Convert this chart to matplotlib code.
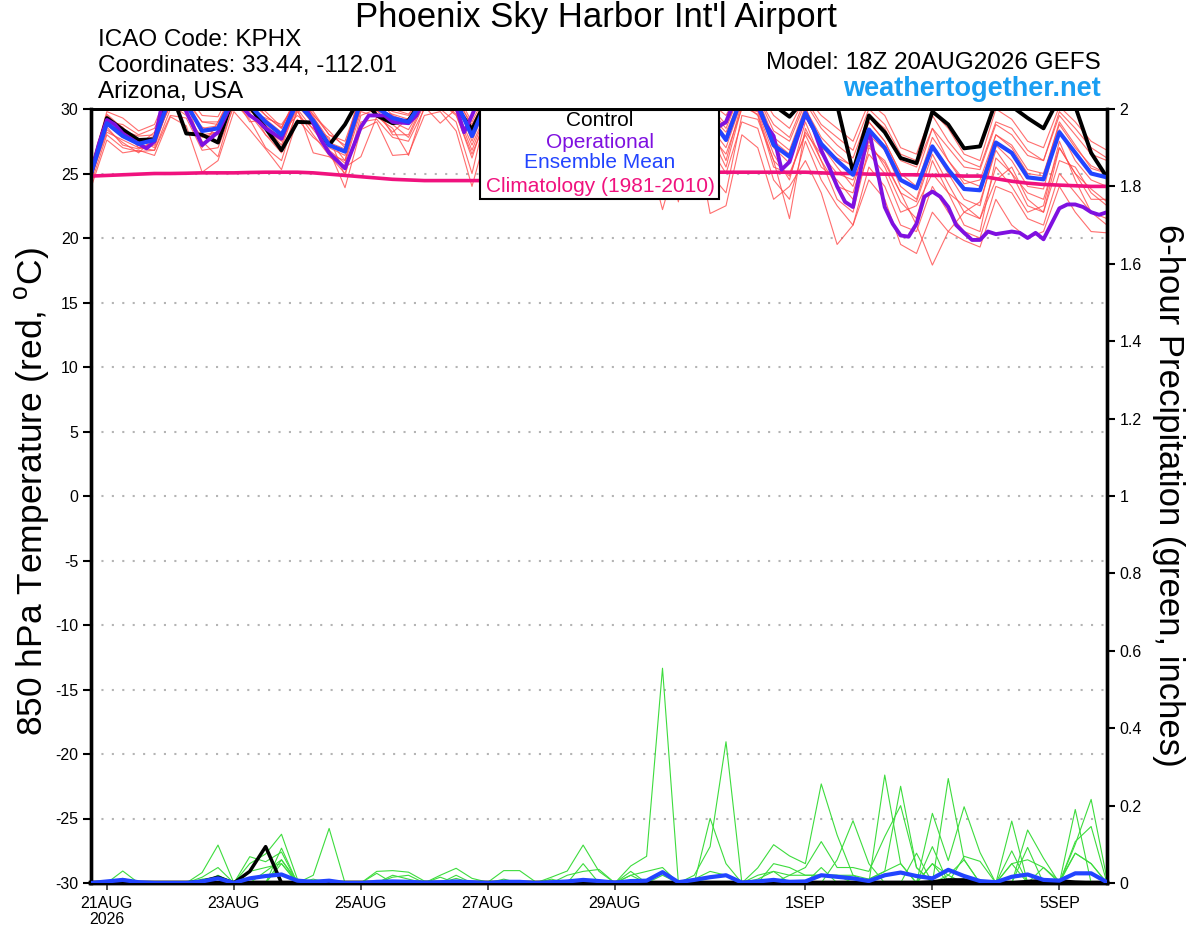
import numpy as np
import matplotlib
matplotlib.use("Agg")
import matplotlib.pyplot as plt
from matplotlib.patches import Rectangle

# 6-hourly steps from 18Z 20AUG2026 (GEFS), operational at 3-hourly steps
date_ticks = [1, 9, 17, 25, 33, 45, 53, 61]
date_labels = ["21AUG\n2026", "23AUG", "25AUG", "27AUG", "29AUG", "1SEP", "3SEP", "5SEP"]

control_temp = [
    25.0, 29.3, 28.4, 27.6, 27.65, 31.5, 28.1, 28.0, 27.4, 31.0,
    30.2, 28.5, 26.8, 29.0, 28.95, 27.2, 28.8, 31.0, 29.5, 28.9,
    29.1, 31.0, 31.5, 30.2, 28.4, 31.0, 30.5, 31.2, 30.0, 31.0,
    31.5, 30.4, 29.5, 31.0, 30.6, 29.0, 28.0, 30.0, 31.0, 30.2,
    30.5, 31.5, 31.0, 30.3, 29.4, 30.8, 31.2, 30.3, 25.1, 29.5,
    28.2, 26.2, 25.8, 29.8, 28.8, 26.95, 27.1, 30.6, 30.2, 29.3,
    28.5, 30.9, 30.2, 26.6, 24.7]

mean_temp = [
    25.0, 28.9, 27.9, 27.3, 27.6, 31.0, 30.4, 28.3, 28.5, 31.0,
    30.3, 29.0, 28.0, 30.5, 29.1, 27.2, 26.7, 30.6, 30.1, 29.3,
    29.0, 30.8, 31.2, 30.6, 27.9, 30.8, 31.0, 30.2, 29.4, 30.6,
    31.0, 30.3, 29.2, 30.4, 31.0, 30.0, 28.4, 29.6, 30.8, 29.3,
    27.6, 31.0, 30.4, 27.2, 26.3, 29.7, 27.3, 26.0, 24.9, 28.4,
    27.0, 24.5, 23.85, 27.1, 25.3, 23.8, 23.7, 27.4, 26.6, 24.7,
    24.55, 28.2, 26.6, 25.0, 24.7]

oper_temp = [
    25.0, 27.3, 29.15, 28.8, 28.1, 27.7, 27.3, 26.95, 27.5, 30.5,
    31.5, 32.0, 29.8, 28.5, 27.2, 27.7, 28.2, 29.5, 30.8, 30.2,
    29.5, 29.1, 28.5, 28.1, 27.7, 29.3, 30.8, 30.2, 28.9, 27.6,
    26.6, 26.0, 25.4, 27.0, 28.6, 29.5, 29.5, 29.5, 29.0, 28.95,
    28.9, 29.5, 30.8, 31.2, 31.5, 30.9, 30.2, 28.2, 29.5, 31.0,
    31.5, 31.2, 30.6, 30.0, 29.5, 29.8, 30.4, 31.0, 31.4, 31.2,
    30.6, 29.8, 29.2, 29.6, 30.4, 31.0, 31.2, 30.8, 30.0, 29.2,
    28.6, 28.8, 29.6, 30.4, 30.8, 30.6, 30.0, 29.4, 29.5, 28.6,
    29.0, 30.5, 31.2, 31.0, 30.2, 28.8, 27.9, 25.3, 25.9, 27.8,
    29.6, 28.5, 26.8, 25.5, 24.0, 22.8, 22.4, 25.4, 28.4, 25.4,
    22.4, 21.1, 20.2, 20.1, 21.1, 23.2, 23.6, 23.2, 22.4, 21.0,
    20.4, 19.85, 19.85, 20.5, 20.3, 20.4, 20.5, 20.4, 20.0, 20.4,
    19.9, 21.1, 22.3, 22.6, 22.6, 22.4, 22.0, 21.8, 22.0]

clim_temp = [
    24.8, 24.85, 24.9, 24.95, 25.0, 25.0, 25.02, 25.05, 25.05, 25.05,
    25.08, 25.1, 25.1, 25.1, 25.05, 24.95, 24.85, 24.75, 24.65, 24.55,
    24.5, 24.45, 24.45, 24.45, 24.45, 24.45, 24.5, 24.55, 24.6, 24.7,
    24.8, 24.9, 25.0, 25.05, 25.1, 25.1, 25.1, 25.1, 25.1, 25.1,
    25.1, 25.1, 25.1, 25.1, 25.1, 25.1, 25.05, 25.0, 25.0, 24.95,
    24.95, 24.9, 24.9, 24.85, 24.85, 24.8, 24.8, 24.6, 24.4, 24.25,
    24.15, 24.1, 24.05, 24.0, 24.0]

temp_m01 = [
    25.2, 29.5, 28.3, 27.9, 28.0, 31.5, 30.8, 29.0, 29.0, 31.5,
    30.6, 29.5, 28.5, 31.0, 29.6, 28.0, 27.5, 31.0, 30.5, 29.8,
    29.5, 31.2, 31.5, 31.0, 28.6, 31.2, 31.4, 30.8, 30.0, 31.0,
    31.4, 30.8, 29.8, 31.0, 31.3, 30.5, 29.0, 30.2, 31.2, 30.0,
    28.5, 31.5, 31.0, 28.3, 27.5, 30.5, 28.5, 27.2, 26.2, 29.5,
    28.5, 26.0, 25.5, 28.5, 27.0, 25.5, 25.3, 28.8, 28.0, 26.4,
    26.0, 29.5, 28.0, 26.5, 26.0]
temp_m02 = [
    24.2, 28.0, 27.0, 26.7, 26.8, 29.5, 29.3, 26.8, 27.0, 30.2,
    29.6, 28.0, 26.6, 29.8, 28.0, 26.4, 25.0, 29.0, 29.2, 27.8,
    27.5, 30.0, 30.5, 29.5, 26.5, 29.5, 30.0, 29.0, 28.0, 29.5,
    30.0, 29.0, 27.5, 29.2, 30.0, 28.5, 26.0, 27.5, 29.5, 27.0,
    25.0, 29.0, 28.5, 24.5, 23.0, 27.5, 24.5, 22.5, 21.0, 25.5,
    24.0, 21.0, 20.5, 24.0, 22.0, 20.5, 20.0, 24.0, 23.5, 21.5,
    21.0, 25.0, 23.5, 22.0, 21.5]
temp_m03 = [
    24.6, 29.2, 28.6, 27.0, 27.2, 30.5, 31.0, 28.0, 28.2, 31.2,
    30.0, 28.6, 27.2, 30.8, 29.4, 27.6, 26.0, 30.2, 30.4, 29.0,
    28.4, 30.5, 31.4, 30.2, 28.0, 31.0, 30.6, 30.4, 29.6, 30.2,
    31.2, 30.0, 29.4, 30.0, 30.8, 29.6, 28.0, 29.0, 30.4, 28.6,
    27.0, 30.6, 30.8, 27.8, 26.8, 30.2, 27.0, 26.2, 25.6, 29.0,
    27.5, 25.0, 24.0, 27.8, 26.0, 24.2, 24.5, 28.0, 27.2, 25.3,
    25.0, 28.8, 27.0, 25.6, 25.0]
temp_m04 = [
    23.9, 27.6, 26.6, 26.8, 26.4, 29.4, 28.7, 25.1, 26.0, 29.8,
    28.4, 26.9, 25.3, 29.2, 27.8, 26.8, 23.9, 28.4, 29.0, 26.4,
    26.5, 29.5, 29.8, 28.3, 24.0, 28.5, 29.5, 28.8, 27.8, 29.0,
    29.5, 23.0, 26.5, 28.8, 29.5, 27.0, 22.2, 26.5, 28.5, 21.9,
    22.5, 28.0, 27.0, 23.0, 24.0, 26.0, 23.5, 19.5, 21.0, 24.5,
    23.0, 19.5, 18.8, 22.0, 20.5, 19.8, 19.3, 23.0, 21.0, 20.0,
    20.5, 24.0, 22.0, 20.5, 20.4]
temp_m05 = [
    24.8, 28.4, 27.4, 26.6, 27.8, 30.2, 29.8, 27.5, 26.3, 30.5,
    29.2, 27.0, 26.0, 30.0, 26.6, 26.3, 25.5, 26.3, 29.4, 28.5,
    26.4, 30.2, 28.9, 30.0, 27.2, 30.0, 29.2, 29.5, 28.6, 30.0,
    29.8, 29.0, 28.4, 29.6, 30.5, 29.0, 27.0, 28.5, 30.0, 25.0,
    23.5, 29.5, 29.2, 26.0, 21.5, 28.5, 26.0, 24.0, 23.5, 27.5,
    25.5, 22.8, 21.5, 26.0, 23.5, 21.0, 20.5, 26.2, 25.0, 22.5,
    22.0, 27.0, 25.0, 23.0, 23.0]
temp_m06 = [
    25.5, 29.8, 29.3, 28.3, 28.8, 31.8, 31.2, 29.5, 29.4, 31.8,
    31.0, 29.5, 28.5, 31.2, 29.5, 28.3, 27.0, 31.5, 30.8, 29.5,
    29.0, 31.5, 32.0, 31.2, 29.0, 31.5, 31.8, 31.0, 30.2, 31.4,
    31.8, 31.0, 30.0, 31.2, 31.6, 30.8, 29.5, 30.5, 31.5, 30.5,
    29.5, 31.8, 31.5, 29.5, 28.5, 31.0, 29.5, 28.5, 27.5, 30.5,
    29.5, 27.0, 26.5, 29.8, 28.5, 26.5, 26.0, 30.0, 29.2, 27.5,
    27.0, 30.2, 29.0, 27.5, 26.8]
temp_m07 = [
    25.0, 28.8, 27.8, 27.6, 27.0, 30.8, 30.0, 28.6, 28.0, 30.8,
    30.5, 28.8, 27.6, 30.2, 29.0, 27.0, 26.4, 30.0, 29.8, 29.6,
    29.2, 31.0, 31.0, 30.8, 27.5, 30.5, 30.8, 29.8, 29.0, 30.8,
    30.6, 30.5, 29.0, 30.6, 31.2, 30.2, 28.5, 29.8, 31.0, 29.5,
    27.8, 31.2, 30.0, 27.0, 25.8, 29.4, 27.2, 25.5, 24.0, 28.0,
    26.8, 24.0, 23.0, 27.0, 25.0, 23.0, 22.5, 27.2, 26.0, 24.0,
    23.8, 28.4, 26.0, 24.5, 24.0]
temp_m08 = [
    24.4, 29.0, 28.0, 27.2, 28.2, 31.2, 30.6, 27.0, 29.0, 31.0,
    29.0, 29.2, 28.2, 29.5, 28.5, 27.8, 24.8, 29.5, 30.0, 28.0,
    28.0, 30.6, 30.0, 29.0, 25.0, 30.2, 30.5, 29.6, 28.8, 30.0,
    30.5, 29.5, 28.5, 29.8, 30.4, 29.2, 27.5, 28.8, 30.2, 28.0,
    26.5, 30.0, 29.8, 26.5, 24.5, 29.0, 26.0, 23.0, 22.0, 27.0,
    26.0, 23.5, 21.0, 17.9, 20.5, 22.0, 21.5, 25.5, 24.0, 22.0,
    22.5, 27.5, 24.5, 22.0, 21.0]
temp_m09 = [
    25.3, 29.6, 28.5, 27.4, 27.9, 31.0, 30.2, 28.5, 28.7, 31.2,
    29.8, 29.3, 28.8, 30.6, 29.3, 27.4, 26.9, 30.8, 30.2, 29.4,
    28.8, 30.9, 31.2, 30.4, 28.2, 31.0, 31.2, 30.5, 29.6, 30.6,
    31.0, 30.4, 29.3, 30.5, 31.0, 30.0, 28.8, 29.8, 30.8, 29.5,
    28.2, 31.0, 30.5, 27.5, 26.5, 30.0, 27.8, 26.5, 25.5, 29.0,
    27.5, 25.0, 24.8, 28.5, 26.0, 24.5, 24.0, 28.0, 27.0, 25.0,
    24.8, 29.0, 27.2, 25.4, 25.0]
temp_m10 = [
    24.7, 28.2, 27.6, 27.0, 26.8, 30.0, 30.5, 28.0, 27.5, 31.0,
    30.2, 28.0, 27.0, 30.4, 28.8, 26.5, 26.0, 30.5, 29.6, 28.2,
    29.3, 30.6, 31.0, 29.8, 26.8, 30.0, 30.6, 30.0, 29.0, 30.4,
    30.8, 30.2, 29.0, 30.2, 30.8, 29.8, 27.8, 22.8, 30.6, 28.8,
    26.0, 30.5, 29.5, 25.5, 25.0, 28.0, 25.5, 24.5, 23.0, 26.5,
    25.0, 22.0, 22.5, 25.0, 23.5, 22.5, 21.5, 24.5, 25.5, 23.0,
    22.0, 26.0, 25.5, 23.5, 22.5]
temp_m11 = [
    25.1, 29.0, 28.8, 28.0, 28.5, 31.2, 30.6, 29.0, 28.8, 31.5,
    30.8, 29.8, 28.6, 30.8, 29.8, 28.0, 27.2, 31.0, 30.6, 30.0,
    29.6, 31.2, 31.6, 30.8, 28.8, 31.0, 31.4, 30.6, 29.8, 31.0,
    31.4, 30.8, 29.8, 30.8, 31.4, 30.4, 29.0, 30.0, 31.2, 30.2,
    28.8, 31.4, 31.0, 28.8, 27.8, 30.8, 28.8, 27.8, 26.8, 30.0,
    28.8, 26.5, 26.0, 29.5, 27.5, 26.0, 25.5, 29.0, 28.5, 26.8,
    26.0, 29.8, 28.5, 27.0, 26.2]
temp_m12 = [
    24.5, 28.6, 27.2, 26.9, 27.4, 30.4, 29.5, 27.8, 28.2, 30.6,
    29.5, 28.4, 27.5, 30.0, 28.4, 26.8, 25.8, 29.8, 29.4, 28.8,
    27.8, 30.4, 30.6, 29.6, 26.2, 30.0, 30.2, 29.4, 28.4, 29.8,
    30.4, 29.6, 28.2, 29.8, 30.2, 29.0, 26.8, 28.4, 30.2, 28.0,
    25.5, 30.2, 29.6, 26.0, 24.8, 28.2, 26.5, 25.0, 24.5, 27.2,
    25.8, 23.5, 22.8, 26.5, 24.2, 22.0, 22.8, 26.8, 25.0, 23.5,
    23.0, 27.0, 25.0, 23.8, 22.8]

control_precip = [
    0, 0, 0, 0, 0, 0, 0, 0.004, 0.015, 0,
    0.03, 0.094, 0, 0, 0, 0, 0, 0, 0, 0,
    0, 0, 0, 0, 0, 0, 0, 0, 0, 0,
    0, 0, 0, 0, 0, 0, 0, 0, 0, 0,
    0, 0, 0, 0, 0, 0, 0, 0, 0, 0,
    0, 0, 0, 0.003, 0.008, 0.008, 0.002, 0, 0, 0.004,
    0.006, 0.006, 0.002, 0, 0]

mean_precip = [
    0, 0.004, 0.008, 0.002, 0, 0, 0, 0.004, 0.012, 0,
    0.012, 0.018, 0.022, 0.006, 0.003, 0.006, 0, 0, 0.003, 0.004,
    0.003, 0.001, 0.002, 0.004, 0.002, 0, 0.003, 0.003, 0, 0.002,
    0.004, 0.008, 0.005, 0.001, 0.005, 0.006, 0.028, 0.002, 0.008, 0.015,
    0.02, 0.001, 0.004, 0.008, 0.003, 0.004, 0.02, 0.016, 0.012, 0.005,
    0.02, 0.027, 0.018, 0.012, 0.034, 0.018, 0.005, 0.002, 0.016, 0.022,
    0.008, 0.006, 0.025, 0.025, 0.002]

precip_m01 = [
    0, 0, 0.031, 0, 0, 0, 0, 0.015, 0.04, 0,
    0.03, 0.04, 0.05, 0, 0, 0, 0, 0, 0, 0,
    0, 0, 0, 0, 0, 0, 0, 0, 0, 0,
    0.02, 0.03, 0.035, 0, 0.044, 0.069, 0.555, 0, 0, 0,
    0, 0, 0, 0.05, 0.04, 0.02, 0.02, 0.02, 0.02, 0.01,
    0.03, 0.05, 0, 0.05, 0.02, 0.06, 0, 0, 0.05, 0.06,
    0.04, 0, 0.077, 0.05, 0]
precip_m02 = [
    0, 0, 0.012, 0, 0, 0, 0, 0, 0.02, 0,
    0, 0.03, 0.06, 0.005, 0, 0, 0, 0, 0, 0.02,
    0.01, 0, 0, 0.012, 0, 0, 0, 0, 0, 0,
    0, 0, 0, 0, 0.02, 0, 0.02, 0, 0.02, 0.094,
    0.365, 0, 0.02, 0.03, 0.02, 0.04, 0.107, 0.04, 0.04, 0.03,
    0.12, 0.2, 0.04, 0, 0, 0.069, 0.056, 0, 0.083, 0,
    0, 0, 0.107, 0.146, 0]
precip_m03 = [
    0, 0, 0.01, 0, 0, 0, 0, 0.027, 0.098, 0,
    0.068, 0.055, 0.08, 0, 0.01, 0, 0, 0, 0.03, 0.032,
    0.028, 0.005, 0, 0, 0, 0, 0, 0, 0, 0.015,
    0.031, 0.098, 0.03, 0, 0, 0, 0, 0, 0, 0.167,
    0.05, 0, 0, 0, 0, 0, 0, 0, 0, 0,
    0, 0, 0, 0.094, 0, 0, 0, 0, 0, 0,
    0, 0, 0, 0, 0]
precip_m04 = [
    0, 0, 0, 0, 0, 0, 0, 0.01, 0.015, 0,
    0.05, 0.075, 0.126, 0.01, 0, 0, 0, 0, 0, 0,
    0, 0, 0.02, 0.038, 0.012, 0.002, 0.032, 0.032, 0.003, 0,
    0, 0, 0, 0, 0.02, 0.03, 0.04, 0, 0, 0,
    0, 0, 0.039, 0.099, 0.07, 0.05, 0.256, 0.124, 0.02, 0,
    0, 0, 0, 0, 0, 0, 0, 0, 0, 0,
    0, 0, 0, 0, 0]
precip_m05 = [
    0, 0, 0, 0, 0, 0, 0, 0, 0, 0,
    0, 0, 0.09, 0, 0.02, 0.141, 0, 0, 0, 0.015,
    0.02, 0, 0, 0.02, 0, 0, 0.01, 0, 0, 0.01,
    0, 0, 0, 0, 0, 0, 0, 0, 0.01, 0.03,
    0.02, 0, 0, 0, 0, 0, 0, 0.06, 0.161, 0.05,
    0, 0, 0, 0, 0, 0, 0, 0, 0, 0,
    0, 0, 0.19, 0, 0]
precip_m06 = [
    0, 0, 0, 0, 0, 0, 0, 0, 0, 0,
    0, 0, 0.06, 0, 0, 0.005, 0, 0, 0.025, 0,
    0, 0, 0.015, 0, 0, 0, 0, 0.005, 0, 0,
    0, 0.05, 0, 0, 0.03, 0, 0, 0, 0.01, 0,
    0, 0, 0.01, 0.03, 0, 0, 0.04, 0, 0, 0,
    0.279, 0.05, 0, 0, 0, 0, 0, 0, 0.16, 0,
    0, 0, 0, 0, 0]
precip_m07 = [
    0, 0, 0, 0, 0, 0, 0, 0, 0, 0,
    0, 0, 0, 0, 0, 0, 0, 0, 0, 0,
    0, 0, 0, 0, 0, 0, 0, 0, 0, 0,
    0, 0, 0, 0, 0, 0, 0, 0, 0, 0,
    0, 0, 0, 0, 0, 0, 0, 0, 0, 0.01,
    0.03, 0.25, 0.04, 0, 0.27, 0.06, 0, 0, 0, 0.137,
    0.064, 0, 0, 0, 0]
precip_m08 = [
    0, 0, 0, 0, 0, 0, 0, 0, 0, 0,
    0, 0, 0, 0, 0, 0, 0, 0, 0, 0,
    0, 0, 0, 0, 0, 0, 0, 0, 0, 0,
    0, 0, 0, 0, 0, 0, 0, 0, 0, 0,
    0, 0, 0, 0, 0, 0, 0, 0, 0, 0,
    0, 0, 0, 0.18, 0.058, 0.197, 0.079, 0, 0, 0,
    0, 0, 0.1, 0.216, 0.01]
precip_m09 = [
    0, 0, 0, 0, 0, 0, 0, 0, 0, 0,
    0, 0, 0.05, 0, 0, 0, 0, 0, 0, 0,
    0, 0, 0, 0, 0, 0, 0, 0, 0, 0,
    0, 0, 0, 0, 0, 0, 0, 0, 0, 0,
    0, 0, 0, 0, 0, 0, 0, 0, 0, 0,
    0, 0, 0.077, 0, 0.02, 0, 0, 0.005, 0, 0.092,
    0, 0, 0, 0, 0]
precip_m10 = [
    0, 0, 0, 0, 0, 0, 0, 0, 0, 0,
    0, 0, 0, 0, 0, 0, 0, 0, 0, 0,
    0, 0, 0, 0, 0, 0, 0, 0, 0, 0,
    0, 0, 0, 0, 0, 0, 0, 0, 0, 0,
    0, 0, 0, 0, 0.02, 0.02, 0.02, 0.02, 0, 0,
    0, 0, 0, 0.05, 0, 0, 0, 0, 0.05, 0,
    0.04, 0.005, 0.077, 0.05, 0]

temp_members = [temp_m01, temp_m02, temp_m03, temp_m04, temp_m05, temp_m06,
                temp_m07, temp_m08, temp_m09, temp_m10, temp_m11, temp_m12]
precip_members = [precip_m01, precip_m02, precip_m03, precip_m04, precip_m05,
                  precip_m06, precip_m07, precip_m08, precip_m09, precip_m10]

temp_ticks = [-30, -25, -20, -15, -10, -5, 0, 5, 10, 15, 20, 25, 30]
precip_ticks = [0, 0.2, 0.4, 0.6, 0.8, 1.0, 1.2, 1.4, 1.6, 1.8, 2.0]
precip_tick_labels = ["0", "0.2", "0.4", "0.6", "0.8", "1", "1.2", "1.4", "1.6", "1.8", "2"]

C_OPER = "#7f10e0"
C_MEAN = "#2244ff"
C_CLIM = "#f0127e"
C_RED = "#ff4a4a"
C_GREEN = "#3ddc3d"


def draw():
    plt.rcParams["font.family"] = ["Liberation Sans", "DejaVu Sans"]
    plt.rcParams["mathtext.fontset"] = "custom"
    plt.rcParams["mathtext.rm"] = "Liberation Sans"

    fig = plt.figure(figsize=(12, 9.27), dpi=100)
    ax = fig.add_axes([91 / 1200, 1 - 883 / 927, 1016 / 1200, 774 / 927])
    ax2 = ax.twinx()

    x6 = np.arange(len(mean_temp))
    x3 = np.arange(len(oper_temp)) / 2.0

    # temperature
    for m in temp_members:
        ax.plot(x6, m, color=C_RED, linewidth=0.8, alpha=0.8, zorder=2)
    ax.plot(x6, clim_temp, color=C_CLIM, linewidth=2.6, zorder=3)
    ax.plot(x6, control_temp, color="black", linewidth=2.8, zorder=4)
    ax.plot(x3, oper_temp, color=C_OPER, linewidth=2.8, zorder=5)
    ax.plot(x6, mean_temp, color=C_MEAN, linewidth=3.0, zorder=6)

    ax.set_xlim(0, 64)
    ax.set_ylim(-30, 30)
    ax.set_yticks(temp_ticks)
    ax.set_yticklabels([str(t) for t in temp_ticks], fontsize=11.5)
    for t in temp_ticks[1:-1]:
        ax.axhline(t, color="#b4b4b4", linewidth=1.5, linestyle=(0, (1, 4)), zorder=1)
    ax.set_xticks(date_ticks)
    ax.set_xticklabels(date_labels, fontsize=11.5, linespacing=1.1)
    ax.tick_params(axis="x", direction="out", length=5, width=1.3, color="#444444", pad=4)
    ax.tick_params(axis="y", direction="out", length=6, width=1.5, pad=3)

    # precipitation
    for m in precip_members:
        ax2.plot(x6, m, color=C_GREEN, linewidth=0.8, zorder=2)
    ax2.plot(x6, control_precip, color="black", linewidth=2.5, zorder=3)
    ax2.plot(x6, mean_precip, color=C_MEAN, linewidth=3.0, zorder=4)
    ax2.set_ylim(0, 2)
    ax2.set_yticks(precip_ticks)
    ax2.set_yticklabels(precip_tick_labels, fontsize=11.5)
    ax2.tick_params(axis="y", direction="out", length=6, width=1.5, pad=3)

    for a in (ax, ax2):
        a.spines["left"].set_linewidth(2.4)
        a.spines["right"].set_linewidth(2.4)
        a.spines["bottom"].set_linewidth(3.2)
        a.spines["top"].set_linewidth(2.0)

    # legend box
    ax2.add_patch(Rectangle((480 / 1200, 1 - 199 / 927), 239 / 1200, 89 / 927,
                            transform=fig.transFigure, facecolor="white",
                            edgecolor="black", linewidth=1.5, zorder=20, clip_on=False))
    leg = [("Control", "black", 121), ("Operational", C_OPER, 142),
           ("Ensemble Mean", C_MEAN, 163), ("Climatology (1981-2010)", C_CLIM, 186)]
    for txt, col, ypix in leg:
        fig.text(600 / 1200, 1 - ypix / 927, txt, color=col, fontsize=15,
                 ha="center", va="center", zorder=21)

    # header texts
    fig.text(0.497, 1 - 18 / 927, "Phoenix Sky Harbor Int'l Airport", fontsize=25,
             ha="center", va="center")
    fig.text(98 / 1200, 1 - 40 / 927, "ICAO Code: KPHX", fontsize=17.5, va="center")
    fig.text(98 / 1200, 1 - 66 / 927, "Coordinates: 33.44, -112.01", fontsize=17.5, va="center")
    fig.text(98 / 1200, 1 - 92 / 927, "Arizona, USA", fontsize=17.5, va="center")
    fig.text(1101 / 1200, 1 - 63 / 927, "Model: 18Z 20AUG2026 GEFS", fontsize=17.5,
             ha="right", va="center")
    fig.text(1101 / 1200, 1 - 89 / 927, "weathertogether.net", fontsize=19.5,
             fontweight="bold", color="#1a9ef2", ha="right", va="center")

    fig.text(32 / 1200, 1 - 492 / 927, "850 hPa Temperature (red, $^\\mathrm{o}$C)",
             fontsize=25.5, rotation=90, ha="center", va="center")
    fig.text(1168 / 1200, 1 - 495 / 927, "6-hour Precipitation (green, inches)",
             fontsize=25, rotation=-90, ha="center", va="center")

    fig.savefig("out.png", dpi=100)


if __name__ == "__main__":
    draw()
